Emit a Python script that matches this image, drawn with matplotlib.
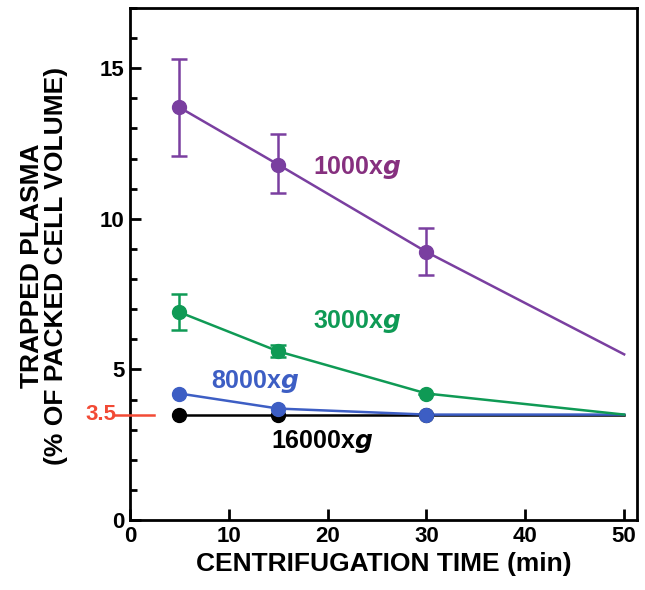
import matplotlib.pyplot as plt
from matplotlib.ticker import MultipleLocator

plt.rcParams['font.family'] = ['Liberation Sans', 'DejaVu Sans']
plt.rcParams['font.weight'] = 'bold'

# centrifugation time (min)
t_data = [5, 15, 30]
t_line = [5, 15, 30, 50]

# trapped plasma (% of packed cell volume)
g1000 = [13.7, 11.8, 8.9]
g1000_end = 5.5
g1000_err_hi = [1.6, 1.0, 0.8]
g1000_err_lo = [1.6, 0.95, 0.75]

g3000 = [6.9, 5.6, 4.2]
g3000_end = 3.5
g3000_err_hi = [0.6, 0.2, 0.0]
g3000_err_lo = [0.6, 0.2, 0.0]

g8000 = [4.2, 3.7, 3.5]
g8000_end = 3.5

g16000 = [3.5, 3.5, 3.5]
g16000_end = 3.5

purple = '#7a3fa0'
green = '#0f9a55'
blue = '#3d5ec4'
black = '#000000'
red = '#f24a35'

fig = plt.figure(figsize=(6.45, 5.9), dpi=100)
ax = fig.add_axes([130 / 645, 1 - 520 / 590, 507 / 645, 512 / 590])

series = [
    (g16000, g16000_end, None, None, black),
    (g8000, g8000_end, None, None, blue),
    (g3000, g3000_end, g3000_err_lo, g3000_err_hi, green),
    (g1000, g1000_end, g1000_err_lo, g1000_err_hi, purple),
]
for vals, end, lo, hi, col in series:
    ax.plot(t_line, vals + [end], color=col, lw=1.8, zorder=2)
    if lo is not None:
        ax.errorbar(t_data, vals, yerr=[lo, hi], fmt='none', ecolor=col,
                    elinewidth=1.8, capsize=6, capthick=1.8, zorder=2)
    ax.plot(t_data, vals, 'o', color=col, ms=10, zorder=3)

ax.set_xlim(0, 51.3)
ax.set_ylim(0, 17)
ax.xaxis.set_major_locator(MultipleLocator(10))
ax.yaxis.set_major_locator(MultipleLocator(5))
ax.yaxis.set_minor_locator(MultipleLocator(1))
ax.tick_params(axis='both', which='major', direction='in', length=8, width=2,
               labelsize=16, pad=4)
ax.tick_params(axis='y', which='minor', direction='in', length=5, width=2)
for s in ax.spines.values():
    s.set_linewidth(2)

# red reference at 3.5
ax.plot([-1.5, 2.4], [3.5, 3.5], color=red, lw=1.8, clip_on=False, zorder=4)
ax.text(-1.4, 3.5, '3.5', color=red, fontsize=16, ha='right', va='center')

ax.text(23.0, 11.7, '1000x$\\mathbfit{g}$', color='#86307f', fontsize=18,
        ha='center', va='center')
ax.text(23.0, 6.6, '3000x$\\mathbfit{g}$', color=green, fontsize=18,
        ha='center', va='center')
ax.text(12.7, 4.6, '8000x$\\mathbfit{g}$', color=blue, fontsize=18,
        ha='center', va='center')
ax.text(19.5, 2.6, '16000x$\\mathbfit{g}$', color=black, fontsize=18,
        ha='center', va='center')

ax.set_xlabel('CENTRIFUGATION TIME (min)', fontsize=19, fontweight='bold',
              labelpad=4)
fig.text(44 / 645, 1 - 266 / 590, 'TRAPPED PLASMA\n(% OF PACKED CELL VOLUME)',
         rotation=90, fontsize=19, fontweight='bold', ha='center', va='center',
         multialignment='center', linespacing=0.95)

fig.savefig('out.png', dpi=100)
